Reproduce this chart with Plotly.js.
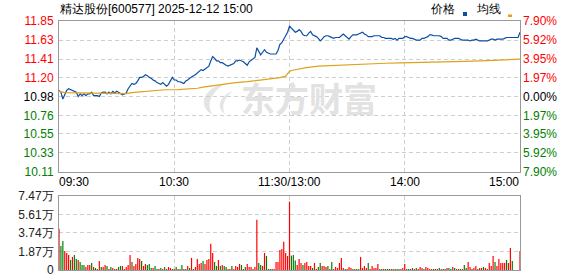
<!DOCTYPE html>
<html><head><meta charset="utf-8">
<script src="https://cdn.plot.ly/plotly-3.0.1.min.js"></script>
<style>html,body{margin:0;padding:0;background:#fff;}#chart{width:578px;height:276px;}</style>
</head><body><div id="chart"></div>
<script>
const stockTitle = "精达股份[600577] 2025-12-12 15:00";
const legendNames = ["价格", "均线"];
const timeLabels = ["09:30", "10:30", "11:30/13:00", "14:00", "15:00"];
const timeTickIdx = [0, 60, 120, 180, 240];
const priceTicks = [11.85, 11.63, 11.41, 11.20, 10.98, 10.76, 10.55, 10.33, 10.11];
const pctTicks = ["7.90%", "5.92%", "3.95%", "1.97%", "0.00%", "1.97%", "3.95%", "5.92%", "7.90%"];
const volTicks = [0, 1.87, 3.74, 5.61, 7.47];
const volTickText = ["0", "1.87万", "3.74万", "5.61万", "7.47万"];
const watermark = "东方财富";

const prices = [
11.05,11.03,10.95,11.01,11.05,11.07,11.06,11.05,11.04,11.03,
10.98,11.01,10.99,11.01,10.99,11.01,11.01,11.03,10.99,10.99,
10.99,10.98,11.02,11.03,11.03,11.01,11.03,11.01,11.04,11.02,
11.04,11.03,11.01,11.00,11.01,11.02,11.07,11.10,11.13,11.12,
11.13,11.16,11.20,11.20,11.21,11.23,11.22,11.20,11.19,11.17,
11.16,11.14,11.13,11.12,11.14,11.12,11.10,11.12,11.17,11.20,
11.17,11.17,11.15,11.15,11.14,11.13,11.16,11.17,11.19,11.21,
11.22,11.23,11.25,11.27,11.29,11.28,11.30,11.31,11.33,11.39,
11.44,11.42,11.39,11.39,11.37,11.37,11.35,11.34,11.33,11.34,
11.35,11.36,11.39,11.39,11.40,11.39,11.38,11.36,11.34,11.38,
11.40,11.42,11.43,11.54,11.49,11.46,11.49,11.52,11.49,11.48,
11.47,11.47,11.47,11.47,11.51,11.58,11.60,11.64,11.67,11.72,
11.79,
11.77,11.74,11.72,11.73,11.75,11.73,11.69,11.68,11.68,11.71,
11.73,11.69,11.68,11.67,11.65,11.62,11.64,11.67,11.68,11.68,
11.67,11.66,11.65,11.66,11.66,11.66,11.68,11.70,11.68,11.66,
11.64,11.67,11.69,11.69,11.69,11.70,11.71,11.72,11.70,11.69,
11.67,11.67,11.67,11.68,11.68,11.68,11.68,11.66,11.66,11.65,
11.65,11.65,11.65,11.64,11.65,11.63,11.65,11.65,11.65,11.67,
11.67,11.66,11.65,11.65,11.64,11.63,11.63,11.63,11.65,11.65,
11.66,11.67,11.69,11.69,11.68,11.68,11.68,11.68,11.67,11.65,
11.65,11.65,11.63,11.63,11.64,11.65,11.65,11.65,11.64,11.63,
11.63,11.63,11.63,11.62,11.63,11.63,11.64,11.63,11.62,11.62,
11.62,11.62,11.62,11.63,11.64,11.64,11.63,11.64,11.64,11.64,
11.64,11.65,11.66,11.66,11.66,11.66,11.66,11.66,11.66,11.72
];

const avgIdx = [0,3,10,17,35,38,42,45,50,55,62,68,72,75,79,82,86,89,92,98,103,110,115,118,119,120,121,123,128,135,142,149,159,170,178,192,200,211,220,225,234,240];
const avgPrice = [11.04,11.025,11.022,11.018,11.014,11.024,11.033,11.044,11.052,11.058,11.06,11.068,11.075,11.088,11.10,11.112,11.12,11.132,11.14,11.151,11.163,11.177,11.197,11.215,11.24,11.27,11.28,11.29,11.31,11.33,11.337,11.348,11.357,11.363,11.368,11.372,11.378,11.385,11.39,11.395,11.402,11.41];

const volumes = [
4.16,2.43,2.94,1.93,1.72,1.52,1.01,1.32,1.52,1.12,
1.01,0.81,0.51,0.51,0.30,0.51,0.51,0.71,0.30,0.20,
0.10,0.91,0.30,0.30,0.51,0.41,0.10,0.30,0.20,0.10,
0.10,0.30,0.41,0.41,0.10,0.30,0.51,1.52,0.81,0.41,
0.61,1.22,1.12,0.91,0.41,0.61,0.51,0.61,0.20,0.20,
0.41,0.10,0.10,0.20,0.10,0.30,0.10,0.30,0.20,0.10,
0.10,0.30,0.10,0.10,0.51,0.10,0.10,0.41,0.20,1.22,
0.10,0.30,1.12,0.61,0.71,0.91,0.61,1.01,1.12,2.64,
1.72,0.81,0.41,1.01,0.41,0.51,0.41,0.30,0.10,0.10,
0.41,0.10,0.41,0.30,0.61,0.51,0.10,0.30,0.61,0.30,
0.30,0.10,0.30,5.07,0.71,0.51,0.41,1.72,1.42,0.10,
0.10,0.10,0.10,0.81,0.81,2.03,2.13,2.84,1.72,1.42,
6.90,
1.45,1.52,0.95,0.51,1.12,0.71,0.51,0.71,0.81,0.41,
0.41,0.20,0.71,0.10,0.30,0.71,0.41,0.41,0.30,0.41,
0.10,0.81,0.10,0.30,0.20,0.71,1.22,0.20,0.10,0.10,
0.30,0.20,0.10,0.10,0.10,0.10,1.32,0.20,0.41,0.20,
0.71,0.10,0.41,0.20,0.20,0.61,0.10,0.10,0.10,0.10,
0.10,0.10,0.10,0.10,0.10,0.10,0.10,0.10,0.20,0.61,
0.10,0.10,0.10,0.20,0.10,0.20,0.10,0.30,0.20,0.10,
0.30,0.20,0.10,0.10,0.10,0.10,0.10,0.20,0.10,0.10,
0.10,0.20,0.20,0.10,0.30,0.20,0.10,0.10,0.10,0.10,
0.51,0.20,0.81,0.30,0.10,0.20,0.41,0.10,0.20,0.20,
0.30,0.20,0.10,0.71,0.41,1.42,0.81,0.41,1.12,0.71,
0.71,0.71,1.01,0.71,2.23,0.91,0,0,0,1.93
];

const volDir = (
"rggrrrgrgg" + "rgggrrrgrg" + "grgrrgrgrg" + "rggrrrrrgr" + "rrrgrrgggr" + "ggrgrgrrrg" +
"rgrggrgrgr" + "grrrrgrrrr" + "rggrgrggrr" + "grrrrgrgrr" + "rrrrggrrgg" + "grrrrrrrrr" + "r" +
"gggrrrgrrr" + "rgrrggrrrg" + "rgrrrrrrgr" + "rrgrggrrrr" + "grrrrrggrg" + "ggrgrggrrr" +
"ggrgrgrrrg" + "rrrrgrrggr" + "grggrgrrgr" + "ggrrrrrgrr" + "grrrrrgrrr" + "rrgrrgrrrr"
).split("");

const idx = prices.map((_, i) => i);
const RED = "#ff0000", GREEN = "#008000", BLACK = "#000000";
const W = 578, H = 276, L = 59, R = 58, T = 21, B = 6;
const plotW = W - L - R, plotH = H - T - B;
const px = x => (x - L) / plotW;
const py = y => (H - B - y) / plotH;

function colorFor(i, n) { const mid = (n - 1) / 2; return i < mid ? RED : (i === mid ? BLACK : GREEN); }
const priceTickText = priceTicks.map((v, i) => `<span style="color:${colorFor(i, priceTicks.length)}">${v.toFixed(2)}</span>`);
const pctTickText = pctTicks.map((t, i) => `<span style="color:${colorFor(i, pctTicks.length)}">${t}</span>`);

const traces = [
  { x: idx, y: volumes, type: "bar", width: 0.62, marker: { color: volDir.map(d => d === "r" ? RED : GREEN), line: { width: 0 } }, xaxis: "x2", yaxis: "y2", hoverinfo: "skip" },
  { x: idx, y: prices, type: "scatter", mode: "lines", line: { color: "#0a4fa3", width: 1.2 }, xaxis: "x", yaxis: "y", hoverinfo: "skip" },
  { x: avgIdx, y: avgPrice, type: "scatter", mode: "lines", line: { color: "#e0a11b", width: 1.2 }, xaxis: "x", yaxis: "y", hoverinfo: "skip" },
  { x: [idx[0], idx[idx.length - 1]], y: [priceTicks[priceTicks.length - 1], priceTicks[0]], type: "scatter", mode: "markers", marker: { opacity: 0 }, xaxis: "x", yaxis: "y3", hoverinfo: "skip" }
];

const gridStyle = { showgrid: true, gridcolor: "#cfcfcf", gridwidth: 1, griddash: "4px,3px", zeroline: false };
const frame = { showline: true, mirror: true, linecolor: "#999999", linewidth: 1 };
const mainDom = [py(172), 1];
const volDom = [0, py(196)];

const layout = {
  width: W, height: H,
  margin: { l: L, r: R, t: T, b: B, pad: 0 },
  paper_bgcolor: "#ffffff", plot_bgcolor: "rgba(0,0,0,0)",
  showlegend: false,
  font: { family: "Liberation Sans, Arial, sans-serif", size: 12, color: "#000" },
  xaxis: Object.assign({ domain: [0, 1], range: [0, 240], anchor: "y", tickmode: "array", tickvals: timeTickIdx.slice(1, -1), showticklabels: false, ticks: "" }, gridStyle, frame),
  xaxis2: Object.assign({ domain: [0, 1], range: [0, 240], anchor: "y2", matches: "x", tickmode: "array", tickvals: timeTickIdx.slice(1, -1), showticklabels: false, ticks: "" }, gridStyle, frame),
  yaxis: Object.assign({ domain: mainDom, range: [priceTicks[priceTicks.length - 1], priceTicks[0]], anchor: "x", tickmode: "array", tickvals: priceTicks, ticktext: priceTickText, ticks: "", ticklabelstandoff: 2, ticklabeloverflow: "allow" }, gridStyle, frame),
  yaxis3: { overlaying: "y", side: "right", anchor: "x", range: [priceTicks[priceTicks.length - 1], priceTicks[0]], tickmode: "array", tickvals: priceTicks, ticktext: pctTickText, ticks: "", showgrid: false, zeroline: false, showline: false, ticklabelstandoff: 2, ticklabeloverflow: "allow" },
  yaxis2: Object.assign({ domain: volDom, range: [0, volTicks[volTicks.length - 1]], anchor: "x2", tickmode: "array", tickvals: volTicks, ticktext: volTickText, ticks: "", ticklabelstandoff: 2, ticklabeloverflow: "allow", tickfont: { color: "#222" } }, gridStyle, frame),
  annotations: [],
  shapes: []
};

function pathFrom(cmds) {
  return cmds.map(c => c[0] + " " + c.slice(1).map((v, k) => (k % 2 === 0 ? px(v) : py(v)).toFixed(5)).join(" ")).join(" ") + " Z";
}
layout.shapes.push({ type: "path", xref: "paper", yref: "paper", layer: "below", line: { width: 0 }, fillcolor: "#e4e4e4",
  path: pathFrom([["M", 226, 83], ["C", 204, 87, 196, 106, 213, 115], ["C", 206, 105, 210, 93, 226, 83]]) });
layout.shapes.push({ type: "path", xref: "paper", yref: "paper", layer: "below", line: { width: 0 }, fillcolor: "#e4e4e4",
  path: pathFrom([["M", 233, 91], ["C", 219, 96, 216, 108, 225, 114], ["C", 221, 106, 224, 98, 233, 91]]) });
layout.annotations.push({ xref: "paper", yref: "paper", x: px(309), y: py(98), xanchor: "center", yanchor: "middle", text: "<b>" + watermark + "</b>", showarrow: false, font: { family: "Noto Sans CJK SC", size: 34, color: "#e2e2e2" } });

layout.annotations.push({ xref: "paper", yref: "paper", x: px(58), y: py(9), xanchor: "left", yanchor: "middle", text: stockTitle, showarrow: false, font: { size: 12, color: "#000" } });
layout.annotations.push({ xref: "paper", yref: "paper", x: px(457), y: py(9), xanchor: "right", yanchor: "middle", text: legendNames[0], showarrow: false, font: { size: 12, color: "#000" } });
layout.annotations.push({ xref: "paper", yref: "paper", x: px(503), y: py(9), xanchor: "right", yanchor: "middle", text: legendNames[1], showarrow: false, font: { size: 12, color: "#000" } });
layout.shapes.push({ type: "rect", xref: "paper", yref: "paper", x0: px(463), x1: px(467), y0: py(16), y1: py(12), fillcolor: "#0a4fa3", line: { width: 0 } });
layout.shapes.push({ type: "rect", xref: "paper", yref: "paper", x0: px(508), x1: px(512), y0: py(17), y1: py(14.5), fillcolor: "#e0a11b", line: { width: 0 } });
timeLabels.forEach((t, i) => {
  const anchor = i === 0 ? "left" : (i === timeLabels.length - 1 ? "right" : "center");
  const shift = i === 0 ? -2 : (i === timeLabels.length - 1 ? 1 : 0);
  layout.annotations.push({ xref: "x", yref: "paper", x: timeTickIdx[i], xshift: shift, y: py(182), xanchor: anchor, yanchor: "middle", text: t, showarrow: false, font: { size: 12, color: "#000" } });
});

Plotly.newPlot("chart", traces, layout, { staticPlot: true, displayModeBar: false });
</script>
</body></html>
